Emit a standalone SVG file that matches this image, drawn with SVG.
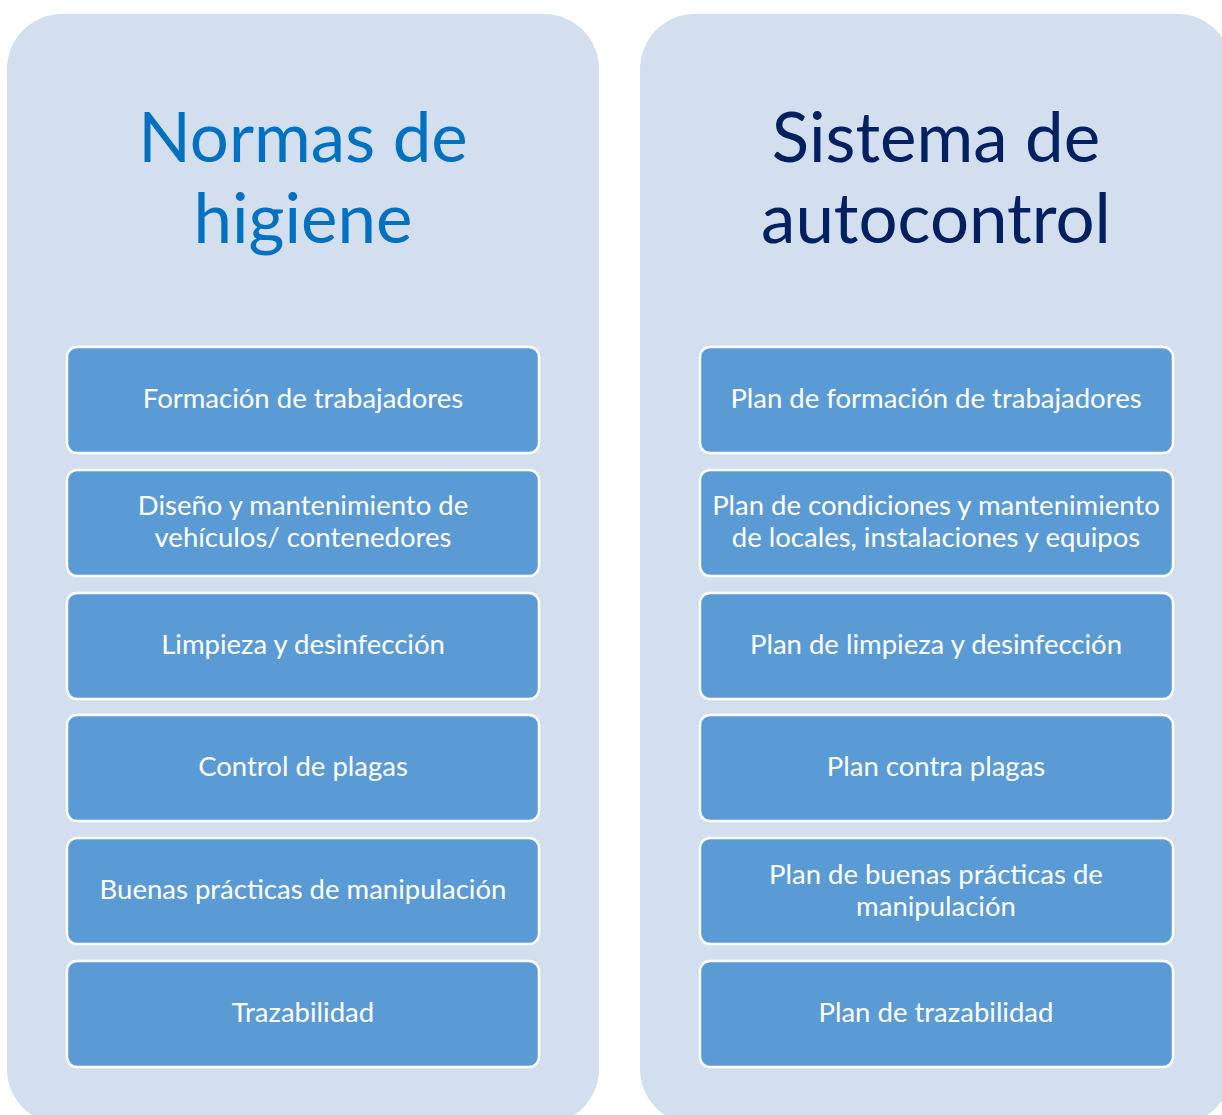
<svg xmlns="http://www.w3.org/2000/svg" width="1222" height="1115" viewBox="0 0 1222 1115">
<style>
.panel{fill:#D3DEEF;}
.box{fill:#5B9BD5;stroke:#FFFFFF;stroke-width:2.5;}
.t{font-family:Lato,"Open Sans","Liberation Sans",sans-serif;font-size:27.5px;fill:#FFFFFF;text-anchor:middle;}
.h{font-family:Lato,"Open Sans","Liberation Sans",sans-serif;font-size:69px;text-anchor:middle;}
</style>
<rect width="1222" height="1115" fill="#FFFFFF"/>
<g id="panel-left">
<rect class="panel" x="7" y="14" width="592" height="1110" rx="55"/>
<text class="h" x="303" y="162" fill="#0070C0">Normas de</text>
<text class="h" x="303" y="243" fill="#0070C0">higiene</text>
</g>
<g id="panel-right">
<rect class="panel" x="640" y="14" width="592" height="1110" rx="55"/>
<text class="h" x="936" y="162" fill="#002060">Sistema de</text>
<text class="h" x="936" y="243" fill="#002060">autocontrol</text>
</g>
<g id="connectors"></g>
<g id="n1"><rect class="box" x="67" y="347" width="472" height="106" rx="10"/><text class="t" x="303" y="408">Formación de trabajadores</text></g>
<g id="n2"><rect class="box" x="67" y="470" width="472" height="106" rx="10"/><text class="t" x="303" y="515">Diseño y mantenimiento de</text><text class="t" x="303" y="547">vehículos/ contenedores</text></g>
<g id="n3"><rect class="box" x="67" y="593" width="472" height="106" rx="10"/><text class="t" x="303" y="654">Limpieza y desinfección</text></g>
<g id="n4"><rect class="box" x="67" y="715" width="472" height="106" rx="10"/><text class="t" x="303" y="776">Control de plagas</text></g>
<g id="n5"><rect class="box" x="67" y="838" width="472" height="106" rx="10"/><text class="t" x="303" y="899">Buenas prácticas de manipulación</text></g>
<g id="n6"><rect class="box" x="67" y="961" width="472" height="106" rx="10"/><text class="t" x="303" y="1022">Trazabilidad</text></g>
<g id="m1"><rect class="box" x="700" y="347" width="473" height="106" rx="10"/><text class="t" x="936" y="408">Plan de formación de trabajadores</text></g>
<g id="m2"><rect class="box" x="700" y="470" width="473" height="106" rx="10"/><text class="t" x="936" y="515">Plan de condiciones y mantenimiento</text><text class="t" x="936" y="547">de locales, instalaciones y equipos</text></g>
<g id="m3"><rect class="box" x="700" y="593" width="473" height="106" rx="10"/><text class="t" x="936" y="654">Plan de limpieza y desinfección</text></g>
<g id="m4"><rect class="box" x="700" y="715" width="473" height="106" rx="10"/><text class="t" x="936" y="776">Plan contra plagas</text></g>
<g id="m5"><rect class="box" x="700" y="838" width="473" height="106" rx="10"/><text class="t" x="936" y="884">Plan de buenas prácticas de</text><text class="t" x="936" y="916">manipulación</text></g>
<g id="m6"><rect class="box" x="700" y="961" width="473" height="106" rx="10"/><text class="t" x="936" y="1022">Plan de trazabilidad</text></g>
</svg>
